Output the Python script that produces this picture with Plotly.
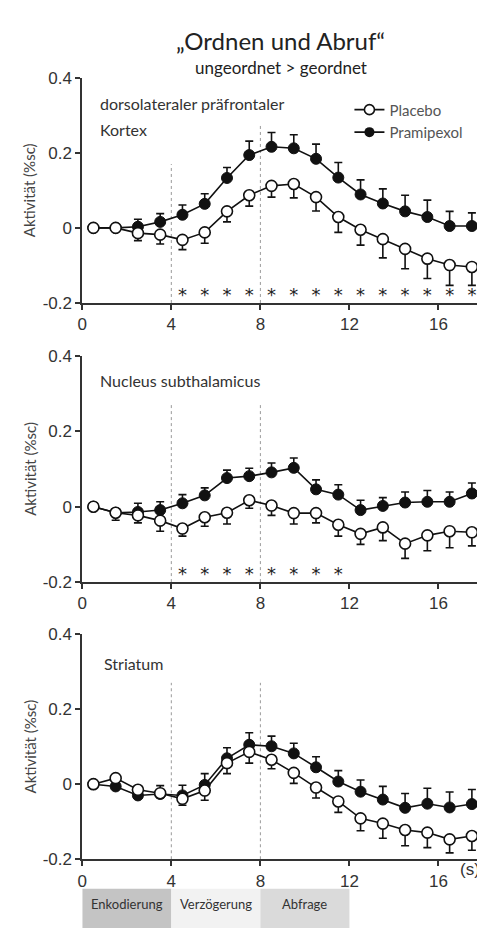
import plotly.graph_objects as go

W, H = 485, 929
OFF = 8  # default body margin of the html page

t = [0.5, 1.5, 2.5, 3.5, 4.5, 5.5, 6.5, 7.5, 8.5, 9.5, 10.5, 11.5, 12.5, 13.5, 14.5, 15.5, 16.5, 17.5]

# dorsolateraler präfrontaler Kortex
dl_placebo = [0, 0, -0.014, -0.018, -0.032, -0.012, 0.044, 0.087, 0.112, 0.117, 0.082, 0.029, -0.005, -0.030, -0.056, -0.082, -0.099, -0.104]
dl_placebo_err = [0, 0.005, 0.020, 0.025, 0.026, 0.029, 0.028, 0.029, 0.030, 0.037, 0.037, 0.041, 0.041, 0.050, 0.053, 0.053, 0.054, 0.049]
dl_prami = [0, 0, 0.003, 0.016, 0.035, 0.064, 0.133, 0.194, 0.216, 0.212, 0.184, 0.134, 0.089, 0.065, 0.044, 0.029, 0.005, 0.005]
dl_prami_err = [0, 0.005, 0.020, 0.022, 0.026, 0.027, 0.028, 0.037, 0.038, 0.036, 0.039, 0.040, 0.039, 0.039, 0.043, 0.045, 0.039, 0.035]
dl_sig = [4.5, 5.5, 6.5, 7.5, 8.5, 9.5, 10.5, 11.5, 12.5, 13.5, 14.5, 15.5, 16.5, 17.5]

# Nucleus subthalamicus
stn_placebo = [0, -0.016, -0.023, -0.037, -0.058, -0.028, -0.016, 0.017, 0.003, -0.017, -0.017, -0.048, -0.072, -0.055, -0.098, -0.076, -0.065, -0.068]
stn_placebo_err = [0, 0.020, 0.020, 0.028, 0.020, 0.024, 0.030, 0.021, 0.026, 0.029, 0.026, 0.030, 0.028, 0.035, 0.039, 0.041, 0.044, 0.036]
stn_prami = [0, -0.016, -0.014, -0.009, 0.009, 0.030, 0.076, 0.081, 0.091, 0.103, 0.046, 0.032, -0.009, 0.002, 0.011, 0.013, 0.013, 0.035]
stn_prami_err = [0, 0.010, 0.023, 0.022, 0.023, 0.020, 0.021, 0.021, 0.025, 0.026, 0.025, 0.026, 0.026, 0.022, 0.028, 0.030, 0.026, 0.028]
stn_sig = [4.5, 5.5, 6.5, 7.5, 8.5, 9.5, 10.5, 11.5]

# Striatum
str_placebo = [0, 0.016, -0.015, -0.024, -0.039, -0.017, 0.056, 0.086, 0.065, 0.030, -0.009, -0.046, -0.091, -0.105, -0.122, -0.129, -0.147, -0.138]
str_placebo_err = [0, 0.008, 0.010, 0.012, 0.017, 0.026, 0.028, 0.030, 0.024, 0.028, 0.028, 0.029, 0.033, 0.039, 0.042, 0.040, 0.036, 0.038]
str_prami = [0, -0.006, -0.030, -0.026, -0.030, -0.002, 0.069, 0.105, 0.101, 0.082, 0.045, 0.007, -0.020, -0.041, -0.063, -0.052, -0.062, -0.053]
str_prami_err = [0, 0.008, 0.010, 0.022, 0.027, 0.030, 0.028, 0.032, 0.027, 0.027, 0.028, 0.029, 0.031, 0.035, 0.038, 0.041, 0.041, 0.039]

x_ticks = [0, 4, 8, 12, 16]
y_ticks = [0.4, 0.2, 0, -0.2]
y_ticktext = ["0.4", "0.2", "0", "-0.2"]

phases = ["Enkodierung", "Verzögerung", "Abfrage"]
phase_start = [0, 4, 8]
phase_end = [4, 8, 12]
phase_colors = ["#c4c4c4", "#f2f2f2", "#dadada"]

title = "„Ordnen und Abruf“"
subtitle = "ungeordnet > geordnet"
y_title = "Aktivität (%sc)"

FW, FH = W - OFF, H - OFF


def px(x):
    return (x - OFF) / FW


def py(y):
    return 1 - (y - OFF) / FH


panels = [
    dict(pl=dl_placebo, ple=dl_placebo_err, pr=dl_prami, pre=dl_prami_err, sig=dl_sig,
         top=70, bot=300, v4=0.17, v8=0.275),
    dict(pl=stn_placebo, ple=stn_placebo_err, pr=stn_prami, pre=stn_prami_err, sig=stn_sig,
         top=354, bot=585, v4=0.275, v8=0.275),
    dict(pl=str_placebo, ple=str_placebo_err, pr=str_prami, pre=str_prami_err, sig=[],
         top=638, bot=868, v4=0.27, v8=0.27),
]

LINE = "#111111"
TXT = "#333333"
fig = go.Figure()
shapes = []
layout = {}
for i, p in enumerate(panels):
    n = i + 1
    xa = "x" if n == 1 else f"x{n}"
    ya = "y" if n == 1 else f"y{n}"
    fig.add_trace(go.Scatter(
        x=t, y=p["pr"], xaxis=xa, yaxis=ya, mode="lines+markers", showlegend=False,
        line=dict(color=LINE, width=1.6),
        marker=dict(symbol="circle", size=11, color=LINE, line=dict(color=LINE, width=1)),
        error_y=dict(type="data", array=p["pre"], arrayminus=[0] * len(t), symmetric=False,
                     color=LINE, thickness=1.6, width=4),
    ))
    fig.add_trace(go.Scatter(
        x=t, y=p["pl"], xaxis=xa, yaxis=ya, mode="lines+markers", showlegend=False,
        line=dict(color=LINE, width=1.6),
        marker=dict(symbol="circle", size=11, color="white", line=dict(color=LINE, width=1.6)),
        error_y=dict(type="data", array=[0] * len(t), arrayminus=p["ple"], symmetric=False,
                     color=LINE, thickness=1.6, width=4),
    ))
    if p["sig"]:
        fig.add_trace(go.Scatter(
            x=p["sig"], y=[-0.183] * len(p["sig"]), xaxis=xa, yaxis=ya, mode="text",
            text=["*"] * len(p["sig"]), showlegend=False, cliponaxis=False, hoverinfo="skip",
            textfont=dict(family="DejaVu Sans", size=18, color="#222222"),
        ))
    for xv, top in [(4, p["v4"]), (8, p["v8"])]:
        shapes.append(dict(type="line", xref=xa, yref=ya, x0=xv, x1=xv, y0=-0.2, y1=top,
                           line=dict(color="#9a9a9a", width=1, dash="dot"), layer="below"))
    key_x = "xaxis" if n == 1 else f"xaxis{n}"
    key_y = "yaxis" if n == 1 else f"yaxis{n}"
    layout[key_x] = dict(domain=[px(78), 1], range=[0, (W - 78) / 22.5], anchor=ya,
                         tickvals=x_ticks, ticks="outside", ticklen=5, tickwidth=1.5,
                         tickcolor="#333", showline=True, linecolor="#333", linewidth=1.8,
                         showgrid=False, zeroline=False,
                         tickfont=dict(family="Liberation Sans", size=17, color=TXT))
    layout[key_y] = dict(domain=[py(p["bot"]), py(p["top"])], range=[-0.2, 0.4], anchor=xa,
                         tickvals=y_ticks, ticktext=y_ticktext, ticks="outside", ticklen=5,
                         tickwidth=1.5, tickcolor="#333", showline=True, linecolor="#333",
                         linewidth=1.8, showgrid=False, zeroline=False,
                         tickfont=dict(family="Liberation Sans", size=17, color=TXT))

# legend entries
fig.add_trace(go.Scatter(x=[None], y=[None], mode="lines+markers", name="Placebo",
                         line=dict(color=LINE, width=1.6),
                         marker=dict(symbol="circle", size=10, color="white", line=dict(color=LINE, width=1.6))))
fig.add_trace(go.Scatter(x=[None], y=[None], mode="lines+markers", name="Pramipexol",
                         line=dict(color=LINE, width=1.6),
                         marker=dict(symbol="circle", size=10, color=LINE)))

for s, e, c in zip(phase_start, phase_end, phase_colors):
    shapes.append(dict(type="rect", xref="x3", yref="paper", x0=s, x1=e, y0=-0.01, y1=py(898),
                       fillcolor=c, line=dict(width=0), layer="below"))

ann = []


def add_text(text, x, y, size, xanchor="center", color=TXT, family="Lato", angle=0):
    ann.append(dict(text=text, x=px(x), y=py(y), xref="paper", yref="paper", showarrow=False,
                    xanchor=xanchor, yanchor="middle", textangle=angle,
                    font=dict(family=family, size=size, color=color)))


add_text(title, 278, 32, 24, color="#222")
add_text(subtitle, 279, 60, 17, color="#222")
add_text("dorsolateraler präfrontaler", 94, 96, 16, xanchor="left")
add_text("Kortex", 94, 123, 16, xanchor="left")
add_text("Nucleus subthalamicus", 94, 379, 16, xanchor="left")
add_text("Striatum", 98, 668, 16, xanchor="left")
for p in panels:
    add_text(y_title, 25, (p["top"] + p["bot"]) / 2, 15, angle=-90, color="#444")
add_text("(s)", 482, 878, 17, family="Liberation Sans", xanchor="right")
for name, s, e in zip(phases, phase_start, phase_end):
    add_text(name, 78 + (s + e) / 2 * 22.5, 914, 13, color="#333")

fig.update_layout(
    width=FW, height=FH, margin=dict(l=0, r=0, t=0, b=0),
    paper_bgcolor="white", plot_bgcolor="rgba(0,0,0,0)",
    shapes=shapes, annotations=ann,
    legend=dict(x=px(348), y=py(86), xanchor="left", yanchor="top", bgcolor="rgba(0,0,0,0)",
                font=dict(family="Lato", size=15, color="#555"), itemwidth=30,
                tracegroupgap=4),
    **layout,
)

fig.write_html("out.html")
